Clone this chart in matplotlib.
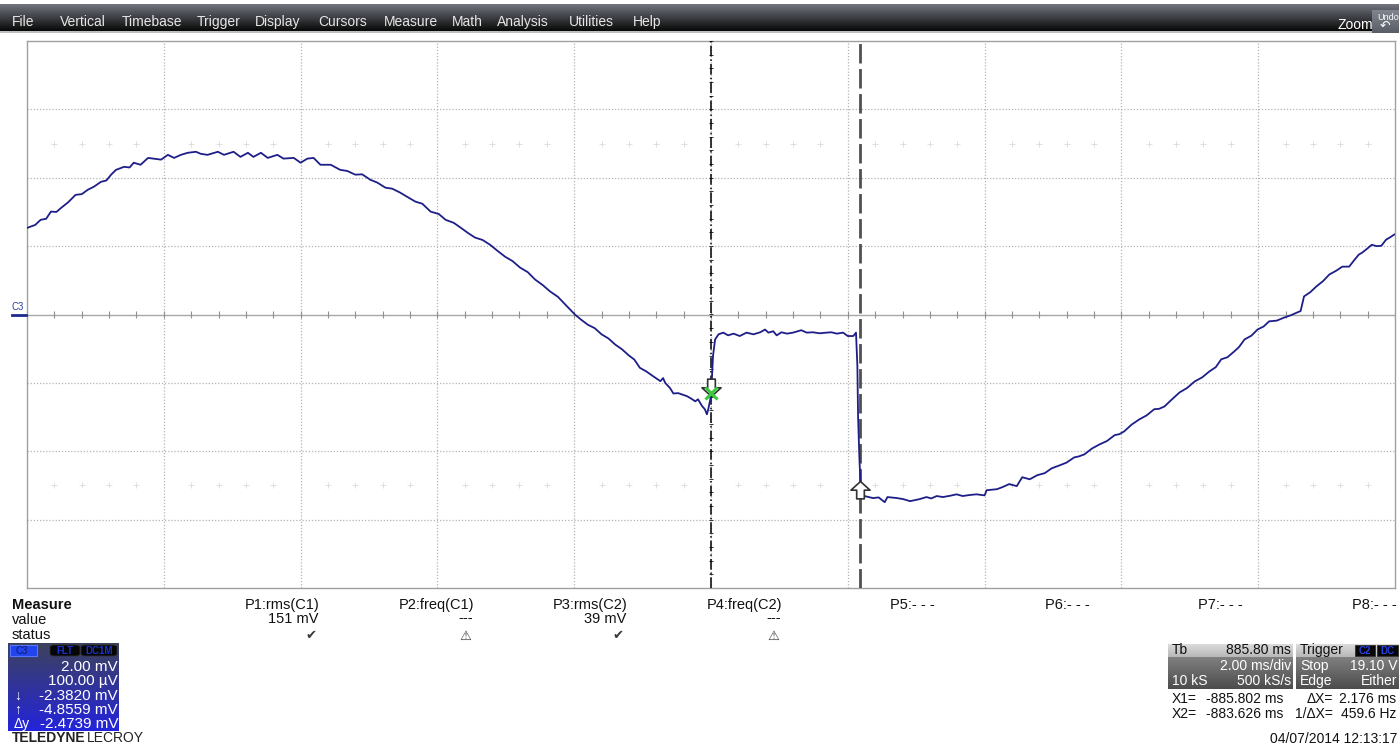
import matplotlib

matplotlib.use("Agg")
import matplotlib.pyplot as plt
import numpy as np
from matplotlib.patches import Rectangle, FancyBboxPatch
from matplotlib.path import Path

plt.rcParams["font.family"] = ["Liberation Sans", "DejaVu Sans"]

# ---- data (time in ms relative to screen centre, voltage in mV) ----
seg_before_x1 = [
    (-9.99, 2.54), (-9.88, 2.62), (-9.80, 2.77), (-9.72, 2.80), (-9.65, 3.01),
    (-9.57, 3.00), (-9.50, 3.12), (-9.40, 3.28), (-9.29, 3.50), (-9.20, 3.52),
    (-9.11, 3.65), (-9.02, 3.74), (-8.92, 3.88), (-8.84, 3.92), (-8.77, 4.09),
    (-8.70, 4.23), (-8.58, 4.32), (-8.50, 4.30), (-8.44, 4.44), (-8.34, 4.38),
    (-8.23, 4.58), (-8.12, 4.55), (-8.04, 4.53), (-7.94, 4.67), (-7.85, 4.58),
    (-7.75, 4.67), (-7.65, 4.73), (-7.53, 4.76), (-7.46, 4.70), (-7.36, 4.67),
    (-7.21, 4.76), (-7.12, 4.67), (-6.98, 4.76), (-6.88, 4.61), (-6.77, 4.73),
    (-6.69, 4.61), (-6.58, 4.73), (-6.48, 4.58), (-6.34, 4.67), (-6.25, 4.56),
    (-6.10, 4.58), (-6.00, 4.44), (-5.90, 4.56), (-5.81, 4.58), (-5.71, 4.38),
    (-5.56, 4.38), (-5.42, 4.23), (-5.32, 4.20), (-5.20, 4.09), (-5.10, 4.10),
    (-4.98, 3.94), (-4.88, 3.86), (-4.76, 3.71), (-4.66, 3.68), (-4.54, 3.56),
    (-4.44, 3.44), (-4.32, 3.30), (-4.22, 3.24), (-4.10, 3.01), (-3.98, 2.94),
    (-3.88, 2.77), (-3.76, 2.68), (-3.66, 2.54), (-3.55, 2.38), (-3.45, 2.25),
    (-3.34, 2.18), (-3.23, 2.04), (-3.12, 1.86), (-3.01, 1.69), (-2.90, 1.56),
    (-2.79, 1.37), (-2.68, 1.24), (-2.57, 1.02), (-2.46, 0.86), (-2.35, 0.67),
    (-2.24, 0.52), (-2.13, 0.29), (-2.05, 0.12), (-1.99, 0.00), (-1.90, -0.15),
    (-1.80, -0.30), (-1.70, -0.40), (-1.60, -0.58), (-1.50, -0.70), (-1.40, -0.88),
    (-1.30, -1.02), (-1.20, -1.20), (-1.12, -1.32), (-1.04, -1.56), (-0.95, -1.66),
    (-0.85, -1.80), (-0.74, -1.95), (-0.70, -1.86), (-0.67, -2.00), (-0.60, -2.15),
    (-0.55, -2.31), (-0.48, -2.30), (-0.42, -2.34), (-0.35, -2.39), (-0.29, -2.46),
    (-0.23, -2.54), (-0.19, -2.48), (-0.13, -2.68), (-0.09, -2.77), (-0.06, -2.92),
    (-0.04, -2.77), (-0.01, -2.48),
]
seg_pulse = [
    (0.01, -1.99), (0.03, -1.20), (0.06, -0.73), (0.11, -0.58), (0.18, -0.53),
    (0.25, -0.61), (0.33, -0.56), (0.42, -0.63), (0.52, -0.53), (0.62, -0.58),
    (0.72, -0.52), (0.79, -0.44), (0.84, -0.53), (0.91, -0.49), (0.96, -0.61),
    (1.03, -0.52), (1.11, -0.56), (1.20, -0.53), (1.27, -0.49), (1.32, -0.46),
    (1.40, -0.53), (1.49, -0.52), (1.59, -0.55), (1.69, -0.53), (1.76, -0.52),
    (1.84, -0.56), (1.93, -0.53), (2.00, -0.63), (2.08, -0.63), (2.12, -0.53),
    (2.14, -1.51), (2.15, -2.97), (2.17, -4.23), (2.19, -5.11),
]
seg_after_x2 = [
    (2.22, -5.30), (2.37, -5.37), (2.45, -5.35), (2.54, -5.49), (2.58, -5.34),
    (2.72, -5.37), (2.81, -5.40), (2.91, -5.46), (3.05, -5.40), (3.15, -5.34),
    (3.22, -5.38), (3.30, -5.31), (3.39, -5.34), (3.50, -5.30), (3.59, -5.26),
    (3.68, -5.31), (3.78, -5.28), (3.88, -5.26), (4.00, -5.29), (4.03, -5.14),
    (4.18, -5.11), (4.26, -5.05), (4.36, -4.96), (4.47, -5.02), (4.55, -4.76),
    (4.66, -4.82), (4.77, -4.70), (4.88, -4.64), (4.98, -4.50), (5.10, -4.41),
    (5.20, -4.33), (5.31, -4.18), (5.38, -4.15), (5.46, -4.09), (5.57, -3.92),
    (5.68, -3.80), (5.79, -3.70), (5.90, -3.53), (5.97, -3.50), (6.04, -3.42),
    (6.15, -3.22), (6.26, -3.07), (6.37, -2.95), (6.48, -2.77), (6.55, -2.76),
    (6.63, -2.69), (6.74, -2.48), (6.85, -2.28), (6.96, -2.15), (7.07, -1.96),
    (7.18, -1.84), (7.29, -1.66), (7.38, -1.54), (7.46, -1.31), (7.55, -1.25),
    (7.65, -1.08), (7.72, -0.95), (7.80, -0.73), (7.90, -0.62), (7.99, -0.44),
    (8.08, -0.35), (8.16, -0.20), (8.27, -0.18), (8.38, -0.09), (8.48, -0.02),
    (8.57, 0.06), (8.62, 0.10), (8.67, 0.53), (8.76, 0.65), (8.85, 0.82),
    (8.95, 0.98), (9.04, 1.17), (9.14, 1.28), (9.23, 1.40), (9.33, 1.40),
    (9.40, 1.58), (9.47, 1.75), (9.52, 1.81), (9.59, 1.92), (9.66, 2.04),
    (9.73, 2.00), (9.80, 2.01), (9.87, 2.19), (9.93, 2.26), (9.99, 2.34),
]

x1_ms, x2_ms = 0.0, 2.176
x1_mv, x2_mv = -2.3820, -4.8559

menu_items = ["File", "Vertical", "Timebase", "Trigger", "Display", "Cursors",
              "Measure", "Math", "Analysis", "Utilities", "Help"]
menu_x = [12, 60, 122, 197, 255, 318, 384, 452, 497, 569, 633]

param_names = ["P1:rms(C1)", "P2:freq(C1)", "P3:rms(C2)", "P4:freq(C2)",
               "P5:- - -", "P6:- - -", "P7:- - -", "P8:- - -"]
param_values = ["151 mV", "---", "39 mV", "---", "", "", "", ""]
param_status = ["\u2714", "\u26a0", "\u2714", "\u26a0", "", "", "", ""]
param_right = [320, 474, 627, 782, 935, 1090, 1243, 1397]

chan_rows = ["2.00 mV", "100.00 \u00b5V", "-2.3820 mV", "-4.8559 mV", "-2.4739 mV"]
chan_marks = ["", "", "\u2193", "\u2191", "\u0394y"]

# ---- figure in pixel coordinates ----
W, H = 1399, 745
fig = plt.figure(figsize=(W / 100, H / 100), dpi=100)
fig.patch.set_facecolor("white")


def fx(x):
    return x / W


def fy(y):
    return 1 - y / H


def txt(x, y, s, **kw):
    kw.setdefault("va", "center")
    kw.setdefault("fontsize", 10)
    fig.text(fx(x), fy(y), s, **kw)


def gradient_box(x0, y0, x1, y1, top, bottom, z=0):
    a = fig.add_axes([fx(x0), fy(y1), (x1 - x0) / W, (y1 - y0) / H], zorder=z)
    g = np.linspace(0, 1, 64)[:, None, None]
    img = np.array(top)[None, None, :] * (1 - g) + np.array(bottom)[None, None, :] * g
    a.imshow(img, aspect="auto", extent=(0, 1, 0, 1))
    a.set_axis_off()
    return a


# menu bar
gradient_box(0, 4, W, 31, (0.45, 0.46, 0.50), (0.03, 0.03, 0.03))
gradient_box(0, 31, W, 33, (0.75, 0.75, 0.75), (0.75, 0.75, 0.75))
for name, x in zip(menu_items, menu_x):
    txt(x, 22, name, color="#e6e6e6", fontsize=10)
txt(1337, 25, "Zoom", color="white", fontsize=10)
gradient_box(1372, 10, W, 33, (0.50, 0.52, 0.56), (0.35, 0.37, 0.40), z=2)
txt(1377, 17, "Undo", color="white", fontsize=6.5, zorder=5)
txt(1380, 27, "\u21b6", color="white", fontsize=9, zorder=5)

# ---- scope grid ----
ax = fig.add_axes([fx(27), fy(588), (1395 - 27) / W, (588 - 41) / H])
ax.set_xlim(-10, 10)
ax.set_ylim(-8, 8)
ax.set_xticks([])
ax.set_yticks([])
for s in ax.spines.values():
    s.set_color("#a0a0a0")
    s.set_linewidth(1)

grid_kw = dict(color="#b4b4b4", lw=0.9, ls=(0, (1, 1.5)), zorder=1)
for t in np.arange(-8, 10, 2):
    ax.axvline(t, **grid_kw)
for v in [-6, -4, -2, 2, 4, 6]:
    ax.axhline(v, **grid_kw)
ax.axhline(0, color="#a8a8a8", lw=1, zorder=1)

sub_t = np.arange(-10, 10.01, 0.4)
ax.vlines(sub_t, -0.1, 0.1, color="#909090", lw=0.8, zorder=1)
sub_v = np.arange(-8, 8.01, 0.4)
ax.hlines(sub_v, -0.035, 0.035, color="#333333", lw=0.7, zorder=3)
faint_t = [t for t in sub_t if abs(t / 2 - round(t / 2)) > 0.01]
for v in (5, -5):
    ax.plot(faint_t, [v] * len(faint_t), ls="none", marker="+", ms=4,
            mew=0.6, color="#dadada", zorder=1)

# trace
trace = seg_before_x1 + seg_pulse + seg_after_x2
trace_ms = [p[0] for p in trace]
trace_mv = [p[1] for p in trace]
ax.plot(trace_ms, trace_mv, color="#1e1e88", lw=1.3, zorder=4)

# cursors
ax.axvline(x1_ms, color="black", lw=1.1, ls=(0, (7, 2, 1, 2)), zorder=3)
ax.axvline(x2_ms, color="#505050", lw=2, ls=(0, (7, 2)), zorder=3)

down = Path([(0, 0), (-0.55, 0.5), (-0.22, 0.5), (-0.22, 1.0), (0.22, 1.0),
             (0.22, 0.5), (0.55, 0.5), (0, 0)],
            [Path.MOVETO] + [Path.LINETO] * 6 + [Path.CLOSEPOLY])
up = Path(down.vertices * [1, -1], down.codes)
ax.plot([x1_ms], [x1_mv], marker=down, ms=25, mfc="white", mec="#333333",
        mew=1.2, ls="none", zorder=6)
ax.plot([x2_ms], [x2_mv], marker=up, ms=25, mfc="white", mec="#333333",
        mew=1.2, ls="none", zorder=6)
ax.plot([x1_ms], [x1_mv + 0.1], marker="x", ms=8, mew=2.2, color="#3cc83c",
        ls="none", zorder=7)

# channel label on the left
txt(12, 307, "C3", color="#2a3fa0", fontsize=7)
fig.add_artist(plt.Line2D([fx(12), fx(26)], [fy(315), fy(315)], color="#1a2a90", lw=2))

# ---- measure table ----
txt(12, 605, "Measure", fontweight="bold", color="#111111", fontsize=10.5)
txt(12, 620, "value", color="#111111", fontsize=10.5)
txt(12, 635, "status", color="#111111", fontsize=10.5)
for name, val, st, xr in zip(param_names, param_values, param_status, param_right):
    txt(xr, 605, name, ha="right", color="#111111", fontsize=10.5)
    if val:
        txt(xr - 1, 619 if val != "---" else 618, val, ha="right", color="#111111",
            fontsize=10.5)
    if st:
        txt(xr - 3, 636, st, ha="right", color="#3a3a3a", fontsize=9.5,
            family=["DejaVu Sans"])

# ---- channel descriptor box ----
gradient_box(8, 643, 119, 731, (0.24, 0.26, 0.36), (0.14, 0.14, 0.86))
fig.add_artist(Rectangle((fx(10), fy(656)), 27 / W, 11 / H, transform=fig.transFigure,
                         facecolor="#2244ee", edgecolor="#5577ff", lw=0.8, zorder=5))
txt(16, 650.5, "C3", color="#101860", fontsize=7, zorder=6)
for bx, bw, lab in [(50, 30, "FLT"), (81, 36, "DC1M")]:
    fig.add_artist(FancyBboxPatch((fx(bx), fy(656)), bw / W, 11 / H,
                                  boxstyle="round,pad=0,rounding_size=0.003",
                                  transform=fig.transFigure, facecolor="#050505",
                                  edgecolor="#303030", lw=0.6, zorder=5))
    txt(bx + bw / 2, 650.5, lab, ha="center", color="#1c30d0", fontsize=7,
        fontweight="bold", zorder=6)
for i, (row, mk) in enumerate(zip(chan_rows, chan_marks)):
    y = 667 + i * 14.3
    txt(118, y, row, ha="right", color="white", fontsize=11, zorder=6)
    if mk:
        txt(14, y, mk, color="white", fontsize=10, zorder=6)

txt(12, 738, "TELEDYNE", fontweight="bold", color="#222222", fontsize=10)
txt(87, 738, "LECROY", color="#222222", fontsize=10)

# ---- timebase / trigger boxes ----
gradient_box(1168, 644, 1293, 657, (0.86, 0.86, 0.86), (0.72, 0.72, 0.72))
gradient_box(1168, 657, 1293, 689, (0.50, 0.50, 0.50), (0.30, 0.30, 0.30))
gradient_box(1296, 644, W, 657, (0.86, 0.86, 0.86), (0.72, 0.72, 0.72))
gradient_box(1296, 657, W, 689, (0.50, 0.50, 0.50), (0.30, 0.30, 0.30))
txt(1172, 650, "Tb", color="#111111", zorder=6)
txt(1291, 650, "885.80 ms", ha="right", color="#111111", zorder=6)
txt(1291, 666, "2.00 ms/div", ha="right", color="white", zorder=6)
txt(1172, 681, "10 kS", color="white", zorder=6)
txt(1291, 681, "500 kS/s", ha="right", color="white", zorder=6)
txt(1300, 650, "Trigger", color="#111111", zorder=6)
for bx, bw, lab in [(1355, 20, "C2"), (1377, 21, "DC")]:
    fig.add_artist(Rectangle((fx(bx), fy(656)), bw / W, 11 / H, transform=fig.transFigure,
                             facecolor="#080808", edgecolor="#303030", lw=0.6, zorder=5))
    txt(bx + bw / 2, 650.5, lab, ha="center", color="#2a40e0", fontsize=7,
        fontweight="bold", zorder=6)
txt(1300, 666, "Stop", color="white", zorder=6)
txt(1397, 666, "19.10 V", ha="right", color="white", zorder=6)
txt(1300, 681, "Edge", color="white", zorder=6)
txt(1397, 681, "Either", ha="right", color="white", zorder=6)

txt(1172, 699, "X1=", color="#111111")
txt(1283, 699, "-885.802 ms", ha="right", color="#111111")
txt(1333, 699, "\u0394X=", ha="right", color="#111111")
txt(1396, 699, f"{x2_ms - x1_ms:.3f} ms", ha="right", color="#111111")
txt(1172, 714, "X2=", color="#111111")
txt(1283, 714, "-883.626 ms", ha="right", color="#111111")
txt(1333, 714, "1/\u0394X=", ha="right", color="#111111")
txt(1396, 714, "459.6 Hz", ha="right", color="#111111")
txt(1270, 739, "04/07/2014 12:13:17", color="#111111")

fig.savefig("out.png", dpi=100)
